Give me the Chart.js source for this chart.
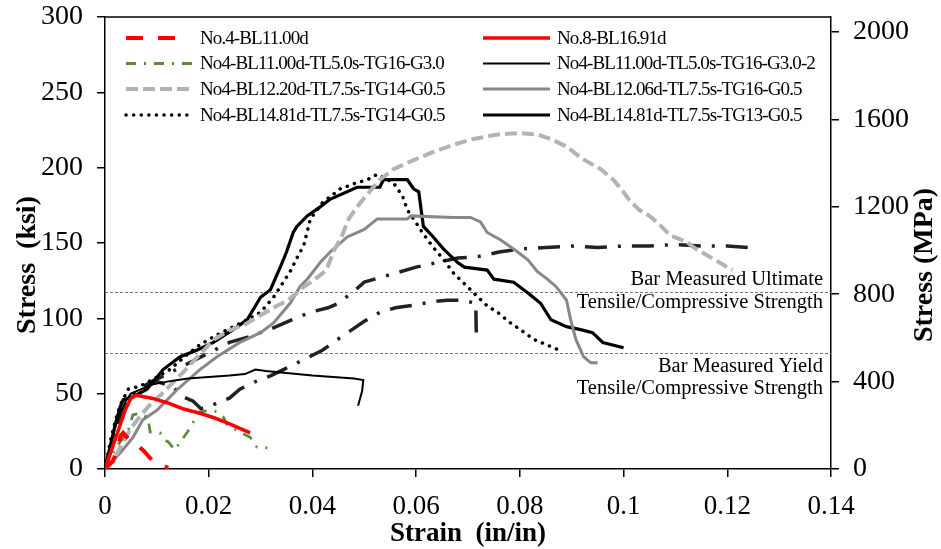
<!DOCTYPE html>
<html>
<head>
<meta charset="utf-8">
<script src="https://cdn.jsdelivr.net/npm/chart.js@4.4.1/dist/chart.umd.min.js"></script>
<style>
  html, body { margin: 0; padding: 0; background: #fff; }
</style>
</head>
<body>
<canvas id="stressChart" width="941" height="549"></canvas>
<script>
// strain (in/in), stress (ksi) pairs
const no4BL1100 = [[0,0],[0.0015,5],[0.0025,14],[0.003,22],[0.0035,24],[0.0045,20],[0.0055,17],[0.0065,15],[0.0075,12],[0.0085,8],[0.0095,4.5],[0.011,2.5],[0.0122,0.8]];
const no8BL1691 = [[0,0],[0.001,10],[0.002,20],[0.003,30],[0.004,40],[0.005,47],[0.006,49],[0.0075,48],[0.009,47],[0.012,44],[0.015,40],[0.0183,37],[0.021,34],[0.0236,30.6],[0.026,27],[0.028,24]];
const no4G30 = [[0,0],[0.002,14],[0.0044,24.6],[0.0054,36],[0.0068,37],[0.0083,34],[0.0087,24.6],[0.0106,24],[0.0116,19],[0.0122,18],[0.0135,12.6],[0.0145,18],[0.0158,24],[0.017,31],[0.0183,38],[0.0203,39],[0.0216,38],[0.0228,34.6],[0.0236,29],[0.026,24.6],[0.028,21],[0.0293,14.6],[0.0313,14]];
const no4G30b = [[0,0],[0.001,15],[0.002,28],[0.003,38],[0.004,45],[0.005,50],[0.007,53],[0.009,56],[0.012,58],[0.016,60],[0.02,61],[0.024,62],[0.027,63],[0.029,66],[0.031,65],[0.034,64],[0.037,63],[0.04,62],[0.044,61],[0.048,60],[0.0498,59],[0.0496,52],[0.0488,42]];
const no4BL1220 = [[0,0],[0.002,8],[0.003,15],[0.005,27],[0.007,36],[0.009,44],[0.011,50],[0.013,57],[0.015,64],[0.018,75],[0.021,86],[0.024,92],[0.027,96],[0.03,102],[0.033,108],[0.0353,112],[0.038,120],[0.0405,126],[0.0427,132],[0.044,144],[0.0456,154],[0.047,166],[0.0486,174],[0.051,184],[0.053,192],[0.0556,199],[0.0595,205],[0.063,210],[0.067,215],[0.071,219],[0.0757,222],[0.08,223],[0.0834,222],[0.086,219],[0.089,214],[0.092,206],[0.0956,199],[0.098,192],[0.0995,186],[0.101,179],[0.103,172],[0.105,168],[0.107,162],[0.109,155],[0.112,151],[0.114,146],[0.116,142],[0.118,138],[0.121,132]];
const no4BL1206 = [[0,0],[0.003,11],[0.0054,21],[0.0073,32.6],[0.01,39],[0.0139,52.6],[0.0183,66],[0.0216,74.5],[0.026,84],[0.03,90.5],[0.0325,97],[0.0357,110],[0.0376,121],[0.039,126],[0.0415,137],[0.0434,144],[0.0467,154],[0.05,159],[0.0525,166],[0.0583,166],[0.059,168],[0.067,167],[0.0705,167],[0.0724,164],[0.0737,157],[0.0763,152],[0.0788,146],[0.0815,139],[0.0834,131],[0.0853,126],[0.087,121],[0.089,112],[0.0898,99],[0.0908,86],[0.0923,74.5],[0.0937,70.5],[0.095,70.5]];
const no4BL1481a = [[0,0],[0.001,18],[0.002,32],[0.003,43],[0.0045,53],[0.0068,55],[0.0095,60],[0.0125,66],[0.0155,75],[0.0183,82.5],[0.0216,89],[0.0245,94],[0.0274,99],[0.03,104],[0.0325,114],[0.034,122],[0.0357,131],[0.0373,142],[0.0383,148],[0.0396,166],[0.042,177],[0.0454,186],[0.0486,190],[0.0506,192],[0.0525,195.6],[0.0556,190],[0.0574,181],[0.0583,172],[0.0595,166],[0.0612,157],[0.0631,148],[0.0653,139],[0.0672,130],[0.0699,121],[0.0718,114.5],[0.0738,108],[0.0757,104],[0.0782,97],[0.0801,92.5],[0.0827,86],[0.0865,80.5],[0.0875,79]];
const no4BL1481b = [[0,0],[0.001,15],[0.002,30],[0.0029,41],[0.0035,46],[0.0054,48],[0.0081,53],[0.0112,66],[0.0145,74.5],[0.0178,79],[0.0209,84],[0.0247,92.5],[0.0274,99],[0.03,114],[0.0319,119],[0.0338,134],[0.035,144],[0.0363,157],[0.037,161],[0.039,168],[0.0415,174],[0.0434,179],[0.0486,187],[0.053,187],[0.0537,192],[0.0583,192],[0.0595,186],[0.0605,184],[0.0614,161],[0.0633,154],[0.0653,146],[0.068,137],[0.0693,134],[0.0737,132],[0.075,126],[0.0788,124],[0.0815,117],[0.084,110],[0.086,99],[0.089,94.5],[0.0917,92.5],[0.094,90.5],[0.096,84],[0.1,80.5]];
// two unlabeled dash-dot curves
const extraUpper = [[0,0],[0.002,22],[0.004,42],[0.006,52],[0.009,58],[0.012,63],[0.016,70],[0.02,77],[0.024,84],[0.028,88],[0.032,93],[0.036,99],[0.0396,104],[0.043,107],[0.045,110],[0.048,118],[0.05,124],[0.053,127],[0.056,130],[0.06,134],[0.064,137],[0.068,140],[0.072,141],[0.076,144],[0.08,146],[0.085,147],[0.09,148],[0.095,147],[0.1,148],[0.105,148],[0.11,149],[0.115,148],[0.12,148],[0.124,147]];
const extraLower = [[0,0],[0.003,35],[0.006,52],[0.01,58],[0.013,55],[0.015,48],[0.017,45],[0.0185,40],[0.02,41],[0.022,44.6],[0.024,47],[0.026,53],[0.029,58],[0.032,62],[0.035,67],[0.038,72],[0.042,79],[0.044,84],[0.047,91],[0.05,98],[0.053,104],[0.056,107],[0.06,109],[0.063,111],[0.066,112],[0.069,112],[0.0715,110],[0.0716,89]];

const seriesLabels = [
  'No.4-BL11.00d', 'No.8-BL16.91d',
  'No4-BL11.00d-TL5.0s-TG16-G3.0', 'No4-BL11.00d-TL5.0s-TG16-G3.0-2',
  'No4-BL12.20d-TL7.5s-TG14-G0.5', 'No4-BL12.06d-TL7.5s-TG16-G0.5',
  'No4-BL14.81d-TL7.5s-TG14-G0.5', 'No4-BL14.81d-TL7.5s-TG13-G0.5'
];
const yTicksMPa = [0, 400, 800, 1200, 1600, 2000];
const refLevels = [117.5, 77];   // ksi
const refNotes = [
  ['Bar Measured Ultimate', 'Tensile/Compressive Strength'],
  ['Bar Measured Yield', 'Tensile/Compressive Strength']
];
const KSI_TO_MPA = 6.894757;

const toXY = arr => arr.map(p => ({ x: p[0], y: p[1] }));
const serif = 'Liberation Serif, Times New Roman, serif';

function line(label, pts, color, width, dash, cap) {
  return {
    label: label, data: toXY(pts), borderColor: color, backgroundColor: color,
    borderWidth: width, borderDash: dash || [], borderCapStyle: cap || 'butt',
    pointRadius: 0, tension: 0, fill: false
  };
}

const datasets = [
  line(seriesLabels[0], no4BL1100, '#ff0000', 4, [17, 15]),
  line(seriesLabels[1], no8BL1691, '#ff0000', 3.5),
  line(seriesLabels[2], no4G30, '#5b8c3a', 2.8, [10, 8, 2, 8]),
  line(seriesLabels[3], no4G30b, '#000000', 2),
  line(seriesLabels[4], no4BL1220, '#b3b3b3', 4, [12, 5]),
  line(seriesLabels[5], no4BL1206, '#888888', 3),
  line(seriesLabels[6], no4BL1481a, '#000000', 3.5, [0.1, 7.5], 'round'),
  line(seriesLabels[7], no4BL1481b, '#000000', 3.2),
  line('', extraUpper, '#222222', 3.5, [22, 11, 3, 11]),
  line('', extraLower, '#222222', 3.5, [22, 11, 3, 11])
];

const overlay = {
  id: 'overlay',
  beforeDatasetsDraw(chart) {
    const { ctx, chartArea, scales } = chart;
    ctx.save();
    ctx.strokeStyle = '#777';
    ctx.lineWidth = 1;
    ctx.setLineDash([3, 2]);
    refLevels.forEach(v => {
      const py = Math.round(scales.y.getPixelForValue(v)) + 0.5;
      ctx.beginPath();
      ctx.moveTo(chartArea.left, py);
      ctx.lineTo(chartArea.right, py);
      ctx.stroke();
    });
    ctx.restore();
  },
  afterDraw(chart) {
    const { ctx, chartArea, scales } = chart;
    ctx.save();
    // frame top
    ctx.strokeStyle = '#000';
    ctx.lineWidth = 1.5;
    ctx.beginPath();
    ctx.moveTo(chartArea.left, chartArea.top);
    ctx.lineTo(chartArea.right, chartArea.top);
    ctx.stroke();

    // reference notes
    ctx.fillStyle = '#000';
    ctx.font = '20.5px ' + serif;
    ctx.textAlign = 'right';
    ctx.textBaseline = 'middle';
    const tx = chartArea.right - 8;
    const u = scales.y.getPixelForValue(refLevels[0]);
    ctx.fillText(refNotes[0][0], tx, u - 12);
    ctx.fillText(refNotes[0][1], tx, u + 11);
    const yl = scales.y.getPixelForValue(refLevels[1]);
    ctx.fillText(refNotes[1][0], tx, yl + 14);
    ctx.fillText(refNotes[1][1], tx, yl + 36);

    // legend, two columns
    ctx.font = '19px ' + serif;
    ctx.textAlign = 'left';
    try { ctx.letterSpacing = '-0.9px'; } catch (e) {}
    const cols = [{ x1: 126, tx: 200, ends: [177, 192, 193, 188] },
                  { x1: 483, tx: 557, ends: [550, 550, 550, 550] }];
    const rowY = [38, 63.5, 89, 115];
    for (let i = 0; i < seriesLabels.length; i++) {
      const ds = chart.data.datasets[i];
      const c = cols[i % 2];
      const row = Math.floor(i / 2);
      const y = rowY[row];
      ctx.save();
      ctx.strokeStyle = ds.borderColor;
      ctx.lineWidth = ds.borderWidth;
      ctx.setLineDash(ds.borderDash);
      ctx.lineCap = ds.borderCapStyle;
      ctx.beginPath();
      ctx.moveTo(c.x1, y);
      ctx.lineTo(c.ends[row], y);
      ctx.stroke();
      ctx.restore();
      ctx.fillText(ds.label, c.tx, y + 1);
    }
    try { ctx.letterSpacing = '0px'; } catch (e) {}

    // vertical axis titles, both reading upward
    ctx.font = 'bold 28px ' + serif;
    ctx.textAlign = 'center';
    const midY = 265;
    ctx.save();
    ctx.translate(28, midY);
    ctx.rotate(-Math.PI / 2);
    ctx.fillText('Stress  (ksi)', 0, 0);
    ctx.restore();
    ctx.save();
    ctx.translate(925, midY);
    ctx.rotate(-Math.PI / 2);
    ctx.fillText('Stress (MPa)', 0, 0);
    ctx.restore();
    ctx.restore();
  }
};

const tickFont = { family: serif, size: 28 };
const axisGrid = { drawOnChartArea: false, drawTicks: true, tickLength: 8, color: '#000', lineWidth: 1.5 };
const axisBorder = { display: true, color: '#000', width: 1.5 };

// fixed axis sizes so the plot box sits where the original one does
function fixVertical(width) {
  return s => { s.width = width; s.paddingTop = 0; s.paddingBottom = 0; };
}

new Chart(document.getElementById('stressChart'), {
  type: 'line',
  data: { datasets: datasets },
  options: {
    responsive: false,
    animation: false,
    devicePixelRatio: 1,
    layout: { padding: { top: 17, left: 0, right: 0, bottom: 0 } },
    plugins: { legend: { display: false }, tooltip: { enabled: false } },
    scales: {
      x: {
        type: 'linear', min: 0, max: 0.14,
        ticks: {
          stepSize: 0.02, color: '#000', font: { family: serif, size: 27 }, padding: 14, maxRotation: 0,
          callback: v => String(Number(v.toFixed(2)))
        },
        grid: axisGrid, border: axisBorder,
        title: { display: true, text: 'Strain  (in/in)', color: '#000',
                 font: { family: serif, size: 27, weight: 'bold', lineHeight: 1.1 }, padding: { top: 0, bottom: 0 } },
        afterFit: s => { s.height = 80; }
      },
      y: {
        position: 'left', min: 0, max: 300,
        ticks: { stepSize: 50, color: '#000', font: tickFont, padding: 14 },
        grid: axisGrid, border: axisBorder,
        afterFit: fixVertical(105)
      },
      y2: {
        position: 'right', min: 0, max: 300 * KSI_TO_MPA,
        ticks: { color: '#000', font: tickFont, padding: 14, callback: v => String(v) },
        afterBuildTicks: s => { s.ticks = yTicksMPa.map(v => ({ value: v })); },
        grid: axisGrid, border: axisBorder,
        afterFit: fixVertical(110)
      }
    }
  },
  plugins: [overlay]
});
</script>
</body>
</html>
